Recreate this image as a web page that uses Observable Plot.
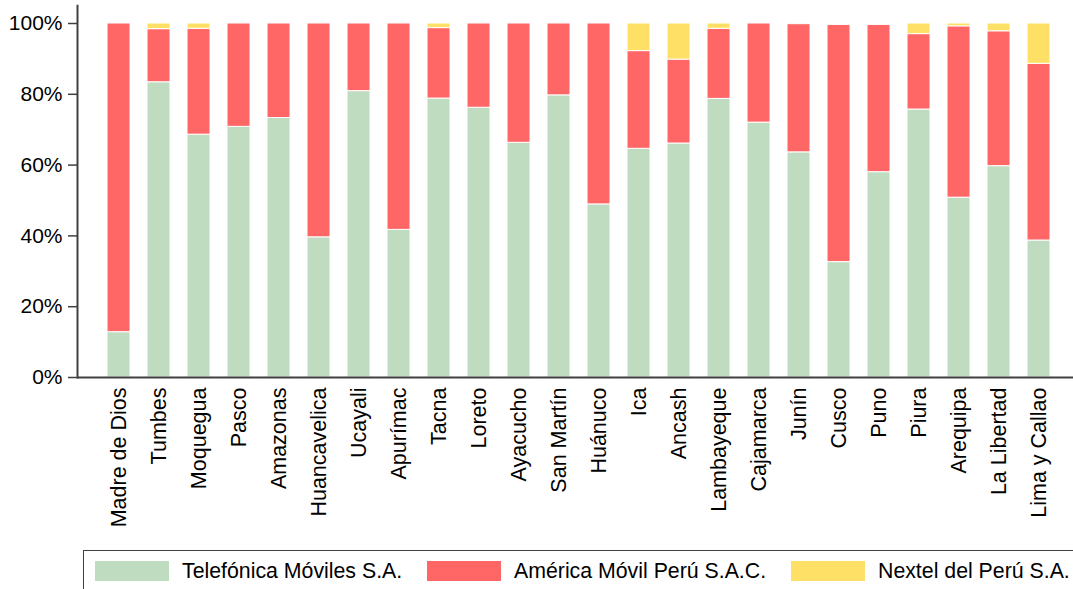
<!DOCTYPE html>
<html>
<head>
<meta charset="utf-8">
<script src="https://cdn.jsdelivr.net/npm/d3@7"></script>
<script src="https://cdn.jsdelivr.net/npm/@observablehq/plot@0.6"></script>
<style>
  html, body { margin: 0; padding: 0; background: #fff; overflow: hidden; }
  body { font-family: "Liberation Sans", Arial, sans-serif; width: 1073px; height: 589px; position: relative; }
  #legend { position: absolute; left: 83px; top: 550px; width: 1010px; height: 50px; border: 1px solid #404040; box-sizing: border-box; }
  .item { position: absolute; top: 10px; height: 20px; display: flex; align-items: center; }
  .sw { width: 74px; height: 20px; }
  .lab { font-size: 21.3px; color: #000; margin-left: 13px; white-space: nowrap; }
</style>
</head>
<body>
<div id="chart"></div>
<div id="legend"></div>
<script>
const regions = ["Madre de Dios","Tumbes","Moquegua","Pasco","Amazonas","Huancavelica","Ucayali","Apurímac","Tacna","Loreto","Ayacucho","San Martín","Huánuco","Ica","Ancash","Lambayeque","Cajamarca","Junín","Cusco","Puno","Piura","Arequipa","La Libertad","Lima y Callao"];
const telefonica = [12.8,83.4,68.6,70.8,73.3,39.6,80.9,41.7,78.8,76.2,66.3,79.7,48.9,64.6,66.1,78.7,72.0,63.6,32.6,58.0,75.7,50.8,59.7,38.7];
const america    = [87.2,15.0,29.9,29.2,26.7,60.4,19.1,58.3,19.9,23.8,33.7,20.3,51.1,27.6,23.7,19.8,28.0,36.2,67.0,41.6,21.3,48.4,38.1,49.9];
const nextel     = [0,1.6,1.5,0,0,0,0,0,1.3,0,0,0,0,7.8,10.2,1.5,0,0,0,0,3.0,0.8,2.2,11.4];
const companies = ["Telefónica Móviles S.A.","América Móvil Perú S.A.C.","Nextel del Perú S.A."];
const colors = ["#c0dcc0","#ff6666","#ffe066"];
const yTicks = [0,20,40,60,80,100];

const series = [telefonica, america, nextel];
const data = [];
regions.forEach((r, i) => {
  companies.forEach((c, k) => data.push({region: r, company: c, value: series[k][i]}));
});

const font = "\"Liberation Sans\", Arial, sans-serif";
const chart = Plot.plot({
  width: 1073,
  height: 545,
  marginLeft: 77,
  marginRight: 0,
  marginTop: 5.3,
  marginBottom: 168,
  style: {fontFamily: font, fontSize: "21px", color: "#000", background: "#fff"},
  x: {domain: regions, range: [92.5, 1065], paddingInner: 0.43, paddingOuter: 0.285, label: null},
  y: {domain: [0, 105], label: null},
  color: {domain: companies, range: colors},
  marks: [
    Plot.barY(data, {x: "region", y: "value", fill: "company", stroke: "white", strokeWidth: 1, order: companies}),
    Plot.axisY({ticks: yTicks, tickFormat: d => d + "%", tickSize: 9, tickPadding: 6, stroke: "#404040", strokeWidth: 1.5, fontSize: 21, fill: "#000", label: null}),
    Plot.axisX({tickSize: 0, tickPadding: 10, tickRotate: -90, fontSize: 21.5, fill: "#000", label: null}),
    Plot.frame({anchor: "left", stroke: "#404040", strokeWidth: 2}),
    Plot.ruleY([0], {stroke: "#404040", strokeWidth: 2})
  ]
});
document.getElementById("chart").appendChild(chart);

const lefts = [[11, 0], [343, 1], [707, 2]];
const legend = d3.select("#legend");
companies.forEach((c, k) => {
  const it = legend.append("div").attr("class", "item").style("left", lefts[k][0] + "px");
  it.append("div").attr("class", "sw").style("background", colors[k]);
  it.append("span").attr("class", "lab").text(c);
});
</script>
</body>
</html>
